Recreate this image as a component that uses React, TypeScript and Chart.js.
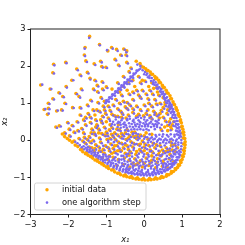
import React, { useEffect, useRef } from "react";
import { Chart, registerables } from "chart.js";

Chart.register(...registerables);

const seriesNames = ["initial data", "one algorithm step"];
const xTicks = [-3, -2, -1, 0, 1, 2];
const yTicks = [-2, -1, 0, 1, 2, 3];
const axisNames = ["x\u2081", "x\u2082"];

const initialRim = [
  -0.08,2.0,-0.02,1.97,0.04,1.93,0.1,1.88,0.16,1.84,0.22,1.78,0.28,1.72,0.33,1.68,0.38,1.62,0.43,1.55,0.48,1.48,0.53,1.42,
  0.58,1.35,0.63,1.27,0.68,1.2,0.72,1.12,0.76,1.04,0.8,0.96,0.84,0.88,0.87,0.8,0.9,0.72,0.93,0.64,0.96,0.55,0.98,0.47,
  1.0,0.38,1.02,0.3,1.04,0.22,1.05,0.14,1.07,0.05,1.08,-0.04,1.08,-0.12,1.07,-0.2,1.06,-0.28,1.05,-0.36,1.03,-0.44,1.0,-0.52,
  0.97,-0.6,0.93,-0.67,0.88,-0.73,0.83,-0.79,0.77,-0.84,0.71,-0.89,0.65,-0.93,0.58,-0.97,0.5,-1.0,0.42,-1.02,0.34,-1.04,
  0.26,-1.05,0.18,-1.06,0.1,-1.07,0.02,-1.07,-0.06,-1.06,-0.14,-1.05,-0.22,-1.04,-0.3,-1.02,-0.38,-1.0,-0.46,-0.98,-0.54,-0.96,
  -0.62,-0.93,-0.7,-0.89,-0.78,-0.85,-0.86,-0.8,-0.94,-0.76,-1.0,-0.72,-1.06,-0.68,-1.12,-0.64,-1.18,-0.6,-1.24,-0.56,-1.3,-0.53,
  -1.36,-0.48,-1.42,-0.44,-1.48,-0.4,-1.55,-0.36,-1.62,-0.31,-1.68,-0.25,-1.75,-0.17,-1.82,-0.13,-1.9,-0.05,-1.97,0.0,-2.03,0.05,-2.1,0.1,-2.16,0.17,
];

const initialRimInner = [
  0.06,1.87,0.18,1.78,0.3,1.66,0.4,1.56,0.5,1.42,0.6,1.28,0.7,1.12,0.78,0.98,0.85,0.84,0.9,0.68,0.95,0.52,0.98,0.36,1.01,0.2,1.03,0.06,1.04,-0.1,1.03,-0.26,1.0,-0.42,0.96,-0.55,
  0.9,-0.66,0.82,-0.76,0.72,-0.84,0.6,-0.92,0.46,-0.98,0.3,-1.01,0.14,-1.03,-0.02,-1.03,-0.18,-1.01,-0.34,-0.98,-0.5,-0.93,-0.66,-0.88,-0.82,-0.79,-0.96,-0.71,-1.1,-0.61,-1.24,-0.52,-1.38,-0.43,-1.52,-0.33,-1.64,-0.24,
];

const initialSparse = [
  -1.44,2.8,-1.18,2.58,-1.56,2.5,-0.86,2.5,-0.54,2.46,-0.73,2.45,-0.96,2.41,-0.46,2.41,-2.39,2.05,-2.07,2.1,-2.41,1.82,-1.58,2.3,
  -1.54,2.14,-1.32,2.06,-1.15,2.13,-1.12,1.99,-1.01,1.97,-0.68,2.03,-0.77,2.18,-0.62,2.3,-0.48,2.3,-0.46,2.1,-0.21,2.13,-0.11,2.07,
  -1.78,1.92,-1.5,1.83,-1.69,1.76,-1.91,1.62,-2.73,1.49,-2.48,1.38,-2.25,1.28,-2.06,1.45,-2.64,0.83,-2.53,0.86,-2.55,0.7,-2.41,1.12,
  -2.53,1.0,-2.31,0.79,-2.18,0.82,-2.33,0.36,-2.24,0.39,-2.15,1.18,-2.09,1.0,-1.89,0.88,-1.69,0.88,-1.69,0.68,-1.5,0.95,-1.41,1.08,
  -1.8,1.26,-1.66,1.38,-1.72,1.18,-1.43,1.67,-1.3,1.62,-1.24,1.48,-1.11,1.58,-1.34,1.38,-1.23,1.31,-1.1,1.38,-1.0,1.44,-1.14,1.15,
  -1.22,1.02,-1.05,1.05,-2.02,0.48,-1.9,0.4,-1.77,0.5,-1.98,0.3,-1.85,0.22,-2.1,0.2,-1.97,0.12,-1.75,0.26,-1.6,0.55,-1.48,0.72,
  -1.35,0.82,-1.55,0.42,-1.42,0.48,-1.28,0.55,-0.35,1.95,-0.4,1.85,-0.55,1.72,-0.7,1.55,-0.55,1.45,-0.42,1.55,-0.3,1.62,-0.15,1.72,
  -0.1,1.55,0.02,1.6,0.2,1.55,0.33,1.42,0.15,1.35,-0.05,1.35,-0.2,1.35,-0.4,1.25,-0.6,1.22,-0.75,1.1,-0.55,1.05,-0.3,1.1,-0.1,1.15,
  0.1,1.12,0.28,1.1,0.42,1.0,0.2,0.92,0.0,0.95,-0.2,0.92,-0.45,0.85,-0.7,0.85,-0.9,0.8,
];

const initialInterior = [
  -1.1,0.65,-0.95,0.6,-0.85,0.7,-0.7,0.65,-0.58,0.72,-0.42,0.68,-0.3,0.75,-0.15,0.7,0.05,0.72,0.25,0.78,0.45,0.8,0.6,0.72,0.7,0.58,0.62,0.4,
  -1.2,0.3,-1.05,0.35,-0.92,0.28,-0.78,0.2,-0.65,0.28,-0.5,0.2,-0.38,0.12,-0.25,0.22,-0.1,0.14,0.05,0.2,0.2,0.16,0.45,0.28,0.72,0.3,
  -1.45,0.1,-1.3,0.15,-1.18,0.06,-1.05,0.14,-0.9,0.05,-0.76,0.02,-0.62,0.08,-0.48,0.02,-0.35,-0.04,-0.2,0.04,-0.05,-0.02,0.1,0.03,
  -1.55,-0.08,-1.42,-0.05,-1.28,-0.12,-1.15,-0.05,-1.02,-0.15,-0.88,-0.1,-0.72,-0.14,-0.6,-0.08,-0.45,-0.15,-0.3,-0.18,-0.15,-0.12,0.0,-0.18,0.12,-0.14,0.28,-0.2,0.42,-0.15,0.58,-0.2,0.72,-0.14,0.88,-0.2,
  -1.32,-0.3,-1.18,-0.28,-1.05,-0.36,-0.92,-0.28,-0.78,-0.32,-0.65,-0.28,-0.5,-0.35,-0.36,-0.32,-0.22,-0.38,-0.08,-0.3,0.08,-0.36,0.22,-0.32,0.38,-0.38,0.52,-0.32,0.68,-0.38,0.82,-0.3,
  -1.1,-0.48,-0.95,-0.52,-0.82,-0.46,-0.68,-0.52,-0.52,-0.48,-0.4,-0.54,-0.25,-0.5,-0.1,-0.55,0.05,-0.48,0.2,-0.54,0.35,-0.5,0.5,-0.56,0.66,-0.5,0.78,-0.58,
  -0.72,-0.68,-0.55,-0.66,-0.38,-0.72,-0.22,-0.66,-0.05,-0.72,0.12,-0.68,0.3,-0.74,0.48,-0.7,0.62,-0.74,
  0.55,0.95,0.4,0.6,0.2,0.58,0.78,0.5,0.68,0.9,0.5,1.15,-0.68,0.42,-1.0,0.5,-1.3,0.68,-1.6,0.2,-1.72,0.05,-1.85,-0.02,
  -1.25,0.42,-1.12,0.48,-1.38,0.3,-1.5,0.02,-1.35,0.0,-1.2,-0.18,-1.08,-0.24,-0.95,-0.2,-0.82,-0.22,-0.68,-0.05,-0.55,-0.2,-0.42,-0.25,-0.28,-0.08,-0.12,-0.25,0.02,-0.1,0.16,-0.26,0.32,-0.12,0.48,-0.26,0.65,-0.27,0.8,-0.12,
  -0.82,0.1,-0.7,0.14,-0.56,0.14,-0.42,0.06,-0.28,0.1,-0.15,0.08,0.0,0.12,-1.0,0.22,-0.85,0.34,-0.6,0.62,-0.48,0.6,-0.2,0.65,-0.02,0.66,0.15,0.66,0.32,0.68,0.5,0.62,0.56,0.52,0.66,0.5,0.74,0.42,
  0.12,1.0,0.32,0.98,0.5,0.88,0.62,0.82,0.38,1.22,0.22,1.25,0.05,1.25,-0.15,1.22,-0.3,1.3,-0.45,1.02,-0.65,1.0,-0.82,0.95,-0.95,0.92,-1.05,0.82,
];

const initialExtra = [
  -1.42,0.62,-1.28,0.36,-1.15,0.55,-1.02,0.72,-0.9,0.42,-0.78,0.66,-0.62,0.78,-0.5,0.9,-0.38,0.95,-1.18,0.78,-1.32,0.2,-1.12,0.18,-0.98,0.02,-0.86,0.16,
  -0.72,0.3,-0.6,0.18,-0.45,0.28,-0.32,0.22,-0.2,0.12,-1.58,0.08,-1.62,-0.02,-1.45,-0.18,-1.3,-0.22,-0.92,-0.42,-0.78,-0.15,-0.6,-0.28,-0.4,-0.4,-0.2,-0.3,
  0.0,-0.28,0.2,-0.42,0.45,-0.42,0.7,-0.05,0.62,0.26,0.54,0.36,0.7,0.36,0.3,0.72,0.1,0.82,-0.1,0.82,-0.3,0.85,0.42,0.72,0.55,1.02,0.35,1.3,0.12,1.45,-0.05,1.62,
  0.25,1.4,-0.25,1.45,-0.45,1.35,-0.65,1.3,-0.85,1.38,-1.25,0.82,-1.08,0.92,-1.55,0.62,-1.65,0.32,-1.4,0.2,-1.2,0.2,-0.98,0.14,-0.7,-0.28,-0.5,-0.12,
  -0.1,-0.1,0.24,-0.08,0.4,-0.3,0.58,-0.3,0.74,-0.26,-0.85,-0.35,-1.12,-0.3,-1.38,-0.2,-0.3,-0.62,-0.16,-0.62,0.0,-0.62,0.16,-0.6,0.34,-0.6,0.5,-0.62,
];

const stepRim = [
  -0.1,1.93,-0.04,1.89,0.02,1.84,0.08,1.8,0.14,1.74,0.2,1.68,0.25,1.62,0.3,1.56,0.35,1.5,0.4,1.43,0.45,1.37,0.5,1.31,0.55,1.24,0.6,1.16,
  0.64,1.08,0.68,1.0,0.72,0.92,0.76,0.84,0.79,0.76,0.82,0.68,0.85,0.6,0.88,0.52,0.9,0.43,0.92,0.35,0.94,0.26,0.96,0.18,0.97,0.1,0.98,0.01,0.98,-0.07,
  0.98,-0.16,0.97,-0.24,0.96,-0.32,0.94,-0.4,0.92,-0.46,0.88,-0.53,0.84,-0.6,0.79,-0.65,0.74,-0.71,0.68,-0.75,0.62,-0.8,0.55,-0.84,0.47,-0.88,0.39,-0.9,
  0.31,-0.92,0.23,-0.94,0.15,-0.95,0.07,-0.95,-0.01,-0.95,-0.09,-0.94,-0.17,-0.93,-0.25,-0.92,-0.33,-0.9,-0.41,-0.89,-0.49,-0.86,-0.57,-0.84,-0.65,-0.81,
  -0.73,-0.77,-0.81,-0.73,-0.89,-0.69,-0.97,-0.64,-1.03,-0.6,-1.09,-0.56,-1.15,-0.52,-1.21,-0.48,-1.27,-0.44,-1.33,-0.41,-1.39,-0.36,-1.45,-0.32,-1.51,-0.28,-1.58,-0.24,-1.65,-0.19,-1.7,-0.13,-1.76,-0.08,
];

const stepRightBand = [
  0.0,1.78,0.1,1.7,0.18,1.6,0.27,1.5,0.33,1.4,0.42,1.32,0.46,1.24,0.52,1.16,0.56,1.08,0.6,1.0,0.66,0.94,0.68,0.84,0.72,0.76,0.75,0.68,0.79,0.6,0.8,0.5,0.84,0.44,0.86,0.34,
  0.88,0.24,0.9,0.14,0.92,0.06,0.44,1.38,0.5,1.26,0.58,1.14,0.62,1.06,0.67,0.98,0.72,0.88,0.75,0.78,0.78,0.7,0.82,0.62,0.85,0.52,0.88,0.42,0.9,0.32,0.92,0.22,0.94,0.12,
  0.38,1.42,0.44,1.3,0.52,1.2,0.58,1.02,0.64,0.9,0.7,0.74,0.74,0.62,0.78,0.5,0.82,0.38,0.84,0.26,0.86,0.16,0.72,0.96,0.66,1.04,0.06,1.76,0.14,1.68,0.24,1.56,0.32,1.48,
];

const stepDiagonal = [
  -1.02,1.0,-0.98,1.05,-0.94,1.1,-0.9,1.14,-0.86,1.18,-0.82,1.22,-0.78,1.26,-0.74,1.3,-0.7,1.34,-0.66,1.38,-0.62,1.42,-0.58,1.46,-0.54,1.5,-0.5,1.54,-0.46,1.58,-0.42,1.62,
  -0.38,1.66,-0.34,1.7,-0.3,1.74,-0.26,1.78,-0.22,1.82,-0.18,1.87,-0.14,1.9,-1.0,1.08,-0.92,1.16,-0.84,1.24,-0.76,1.32,-0.68,1.4,-0.6,1.48,-0.52,1.56,-0.44,1.64,-0.36,1.72,-0.28,1.8,-0.2,1.88,
  -0.93,1.04,-0.85,1.12,-0.77,1.2,-0.69,1.28,-0.61,1.36,-0.53,1.44,-0.45,1.52,-0.37,1.6,-0.29,1.68,
];

const stepMiddleBand = [
  -0.9,0.52,-0.82,0.5,-0.75,0.56,-0.68,0.5,-0.6,0.54,-0.52,0.48,-0.45,0.54,-0.38,0.58,-0.3,0.52,-0.22,0.6,-0.15,0.54,-0.08,0.6,0.0,0.56,0.08,0.54,0.14,0.6,0.22,0.56,0.3,0.52,0.38,0.55,
  -0.85,0.44,-0.78,0.42,-0.7,0.46,-0.62,0.42,-0.55,0.44,-0.48,0.4,-0.4,0.46,-0.33,0.44,-0.26,0.48,-0.18,0.44,-0.1,0.48,-0.02,0.46,0.06,0.44,0.14,0.46,0.22,0.44,0.3,0.44,0.38,0.46,0.46,0.42,
  -0.7,0.36,-0.62,0.34,-0.54,0.36,-0.46,0.34,-0.38,0.37,-0.3,0.36,-0.22,0.38,-0.14,0.36,-0.06,0.38,0.02,0.37,0.1,0.38,0.18,0.36,0.26,0.38,0.34,0.36,0.42,0.34,
  -0.5,0.27,-0.42,0.26,-0.34,0.29,-0.26,0.3,-0.18,0.29,-0.1,0.3,-0.02,0.28,0.06,0.3,0.12,0.27,0.28,0.3,
  0.08,0.08,0.16,0.05,0.24,0.02,0.32,0.1,0.4,0.04,0.48,0.1,0.56,0.04,0.64,0.1,0.72,0.04,0.8,0.1,0.86,0.02,
  0.12,0.0,0.2,0.08,0.28,0.04,0.36,0.0,0.44,0.02,0.52,0.0,0.6,0.0,0.68,0.02,0.76,0.0,0.84,-0.02,0.9,-0.06,
  0.1,-0.06,0.18,-0.04,0.26,-0.08,0.34,-0.04,0.42,-0.08,0.5,-0.05,0.58,-0.08,0.66,-0.05,0.74,-0.08,0.82,-0.08,0.9,-0.12,
  0.3,0.14,0.4,0.15,0.5,0.16,0.6,0.14,0.7,0.16,0.8,0.15,
  -0.24,0.42,-0.12,0.42,0.02,0.41,0.1,0.41,0.26,0.41,0.34,0.41,-0.28,0.55,-0.12,0.5,0.04,0.5,0.18,0.5,0.34,0.5,-0.64,0.48,-0.5,0.42,
];

const stepBottomBand = [
  -0.55,-0.78,-0.48,-0.82,-0.4,-0.8,-0.33,-0.85,-0.25,-0.82,-0.18,-0.88,-0.1,-0.84,-0.02,-0.9,0.06,-0.86,0.14,-0.9,0.22,-0.86,0.3,-0.88,0.38,-0.84,0.46,-0.86,0.54,-0.8,0.62,-0.78,0.7,-0.72,
  -0.62,-0.72,-0.54,-0.7,-0.46,-0.74,-0.38,-0.76,-0.3,-0.74,-0.22,-0.78,-0.14,-0.76,-0.06,-0.8,0.02,-0.76,0.1,-0.8,0.18,-0.76,0.26,-0.78,0.34,-0.74,0.42,-0.78,0.5,-0.72,0.58,-0.7,0.66,-0.64,0.74,-0.62,0.8,-0.56,
  -0.82,-0.62,-0.74,-0.64,-0.66,-0.6,-0.58,-0.62,-0.5,-0.64,-0.42,-0.66,-0.34,-0.64,-0.26,-0.68,-0.18,-0.66,-0.1,-0.68,-0.02,-0.65,0.06,-0.68,0.14,-0.64,0.22,-0.68,0.3,-0.64,0.38,-0.66,0.46,-0.62,0.54,-0.62,0.62,-0.58,0.7,-0.56,0.86,-0.46,
  -1.0,-0.52,-0.92,-0.56,-0.84,-0.54,-0.76,-0.55,-0.68,-0.58,-0.6,-0.52,-0.52,-0.56,-0.44,-0.58,-0.36,-0.56,-0.28,-0.6,-0.2,-0.56,-0.12,-0.6,-0.04,-0.58,0.04,-0.58,0.12,-0.56,0.2,-0.6,0.28,-0.56,0.36,-0.58,0.44,-0.55,0.54,-0.52,0.66,-0.48,0.72,-0.44,0.82,-0.38,
  -1.18,-0.42,-1.08,-0.44,-1.0,-0.44,-0.9,-0.44,-0.76,-0.46,-0.6,-0.42,-0.46,-0.44,-0.32,-0.44,-0.16,-0.46,-0.02,-0.44,0.12,-0.44,0.26,-0.46,0.44,-0.42,0.6,-0.42,0.76,-0.44,0.86,-0.32,0.76,-0.3,
];

const stepBottomFill = [
  -0.44,-0.85,-0.36,-0.87,-0.28,-0.89,-0.2,-0.9,-0.12,-0.9,-0.04,-0.91,0.04,-0.91,0.12,-0.91,0.2,-0.9,0.28,-0.89,0.36,-0.87,0.44,-0.85,0.52,-0.83,0.6,-0.8,0.66,-0.76,0.74,-0.67,0.8,-0.61,0.84,-0.54,0.89,-0.46,0.91,-0.36,
  -0.72,-0.72,-0.64,-0.77,-0.56,-0.8,-0.48,-0.78,-0.42,-0.78,-0.28,-0.8,-0.16,-0.82,-0.06,-0.86,0.1,-0.85,0.26,-0.83,0.34,-0.81,0.48,-0.78,0.56,-0.74,0.62,-0.68,0.7,-0.64,0.78,-0.62,
  -0.95,-0.6,-0.88,-0.65,-0.8,-0.69,-0.7,-0.68,-0.58,-0.68,-0.44,-0.69,-0.3,-0.69,-0.14,-0.71,0.02,-0.71,0.18,-0.71,0.34,-0.69,0.5,-0.67,0.58,-0.64,
  -1.1,-0.5,-1.2,-0.44,-1.3,-0.38,-1.4,-0.3,-1.5,-0.24,-1.6,-0.16,-1.04,-0.53,-1.14,-0.46,-1.24,-0.4,-1.34,-0.33,-1.44,-0.26,-1.54,-0.2,-0.88,-0.6,-0.96,-0.5,-1.08,-0.38,-1.22,-0.34,-1.36,-0.26,-1.48,-0.18,
  -0.94,-0.44,-0.8,-0.5,-0.66,-0.52,-0.54,-0.5,-0.38,-0.5,-0.22,-0.52,-0.06,-0.52,0.08,-0.5,0.24,-0.52,0.4,-0.5,0.58,-0.5,0.74,-0.52,0.92,-0.28,
];

const stepInterior = [
  -1.07,0.62,-0.92,0.57,-0.82,0.67,-0.67,0.62,-0.55,0.69,-0.39,0.65,-0.27,0.72,-0.12,0.67,0.08,0.69,0.28,0.75,0.48,0.77,0.63,0.69,0.66,0.42,
  -1.17,0.27,-1.02,0.32,-0.89,0.25,-0.75,0.17,-0.62,0.25,-0.47,0.17,-0.35,0.09,-0.22,0.19,-0.07,0.11,0.48,0.25,0.7,0.27,
  -1.42,0.07,-1.27,0.12,-1.15,0.03,-1.02,0.11,-0.87,0.02,-0.73,-0.01,-0.59,0.05,-0.45,-0.01,-0.32,-0.07,-0.17,0.01,-0.02,-0.05,
  -1.52,-0.11,-1.39,-0.08,-1.25,-0.15,-1.12,-0.08,-0.99,-0.18,-0.85,-0.13,-0.69,-0.17,-0.57,-0.11,-0.42,-0.18,-0.27,-0.21,-0.12,-0.15,0.03,-0.21,0.15,-0.17,0.31,-0.23,0.45,-0.18,0.61,-0.23,0.75,-0.17,0.85,-0.22,
  -1.29,-0.33,-1.15,-0.31,-1.02,-0.39,-0.89,-0.31,-0.75,-0.35,-0.62,-0.31,-0.47,-0.38,-0.33,-0.35,-0.19,-0.41,-0.05,-0.33,0.11,-0.39,0.25,-0.35,0.41,-0.41,0.55,-0.35,0.71,-0.41,
  -1.42,1.64,-1.27,1.59,-1.21,1.45,-1.08,1.55,-1.31,1.35,-1.2,1.28,-1.07,1.35,-0.97,1.41,-1.11,1.12,-1.19,0.99,-1.02,1.02,-0.32,1.59,-0.12,1.69,-0.07,1.52,0.05,1.57,0.23,1.52,0.36,1.39,0.18,1.32,-0.02,1.32,-0.17,1.32,-0.37,1.22,-0.57,1.19,-0.72,1.07,
  -0.52,1.02,-0.27,1.07,-0.07,1.12,0.13,1.09,0.31,1.07,0.45,0.97,0.23,0.89,0.03,0.92,-0.17,0.89,-0.42,0.82,-0.67,0.82,-0.87,0.77,0.58,0.92,0.71,0.87,0.53,1.12,
  -1.22,0.39,-1.09,0.45,-1.35,0.27,-1.47,-0.01,-1.32,-0.03,-1.17,-0.21,-1.05,-0.27,-0.92,-0.23,-0.79,-0.25,-0.65,-0.08,-0.52,-0.23,-0.39,-0.28,-0.25,-0.11,-0.09,-0.28,0.05,-0.13,0.19,-0.29,0.35,-0.15,0.51,-0.29,0.68,-0.3,0.83,-0.15,
  -0.79,0.07,-0.67,0.11,-0.53,0.11,-0.39,0.03,-0.25,0.07,-0.12,0.05,0.03,0.09,-0.97,0.19,-0.82,0.31,-0.57,0.59,-0.45,0.57,-0.17,0.62,0.01,0.63,0.18,0.63,0.35,0.65,0.53,0.59,0.59,0.49,0.69,0.47,0.77,0.39,
  0.15,0.97,0.35,0.95,0.53,0.85,0.65,0.79,0.41,1.19,0.25,1.22,0.08,1.22,-0.12,1.19,-0.27,1.27,-0.42,0.99,-0.62,0.97,-0.79,0.92,-0.92,0.89,-1.02,0.79,
  -1.08,-0.15,-0.95,-0.05,-0.8,-0.05,-0.65,-0.22,-0.5,-0.08,-0.36,-0.14,-0.2,-0.1,-0.06,-0.2,0.08,-0.24,0.22,-0.14,0.38,-0.28,0.54,-0.14,0.68,-0.22,0.8,-0.26,
  -0.7,-0.38,-0.55,-0.42,-0.42,-0.36,-0.28,-0.26,-0.14,-0.36,0.0,-0.38,0.15,-0.3,0.32,-0.4,0.48,-0.38,0.62,-0.32,0.78,-0.36,
  -0.55,0.04,-0.42,0.16,-0.3,0.16,-0.16,0.16,0.0,0.04,0.14,0.16,
  -1.39,0.59,-1.25,0.33,-1.12,0.52,-0.99,0.69,-0.87,0.39,-0.75,0.63,-0.59,0.75,-0.47,0.87,-0.35,0.92,-1.15,0.75,-1.29,0.17,-1.09,0.15,-0.95,-0.01,-0.83,0.13,
  -0.69,0.27,-0.57,0.15,-0.42,0.25,-0.29,0.19,-0.17,0.09,-1.55,0.05,-1.59,-0.05,-1.42,-0.21,-1.27,-0.25,0.27,0.69,0.07,0.79,-0.07,0.79,-0.27,0.82,0.39,0.69,
  -1.22,0.79,-1.05,0.89,-1.52,0.59,-1.62,0.29,-1.37,0.17,-0.95,0.11,
];

const stepSparse = [
  -1.45,2.76,-1.17,2.56,-1.57,2.47,-0.83,2.47,-0.51,2.44,-0.7,2.41,-0.98,2.43,-0.47,2.37,-2.37,2.02,-2.05,2.08,-2.38,1.8,-1.56,2.27,
  -1.51,2.11,-1.29,2.03,-1.12,2.1,-1.09,1.96,-0.98,1.95,-0.65,2.0,-0.74,2.15,-0.59,2.28,-0.45,2.27,-0.43,2.07,-0.18,2.04,-0.1,2.0,
  -1.75,1.89,-1.47,1.8,-1.66,1.73,-1.87,1.62,-2.69,1.5,-2.45,1.38,-2.22,1.26,-2.04,1.42,-2.61,0.84,-2.5,0.84,-2.52,0.72,-2.38,1.1,
  -2.5,0.98,-2.28,0.8,-2.15,0.8,-2.3,0.34,-2.2,0.37,-2.12,1.16,-2.06,0.98,-1.86,0.87,-1.66,0.86,-1.66,0.66,-1.47,0.92,-1.38,1.05,
  -1.77,1.24,-1.63,1.35,-1.69,1.15,-2.0,0.46,-1.87,0.38,-1.74,0.48,-1.95,0.28,-1.82,0.2,-2.07,0.18,-1.94,0.1,-1.72,0.24,-1.57,0.52,-1.45,0.69,
  -1.32,0.79,-1.52,0.39,-1.39,0.45,-1.25,0.52,-0.33,1.92,-0.38,1.82,-0.52,1.69,-0.67,1.52,-0.52,1.42,-0.39,1.52,-1.57,0.17,-1.69,0.02,-1.82,-0.04,
];

function pairs(...lists: number[][]) {
  const out: { x: number; y: number }[] = [];
  for (const list of lists) {
    for (let i = 0; i + 1 < list.length; i += 2) out.push({ x: list[i], y: list[i + 1] });
  }
  return out;
}

const fmt = (v: number) => (v < 0 ? "\u2212" + Math.abs(v) : String(v));
const FONT = "'DejaVu Sans'";
const ORANGE = "#ffa500";
const BLUE = "#7b68ee";

const framePlugin = {
  id: "frameAndLegend",
  afterDatasetsDraw(chart: any) {
    const { ctx, chartArea: a } = chart;
    ctx.save();
    ctx.strokeStyle = "#222";
    ctx.lineWidth = 1;
    ctx.strokeRect(a.left, a.top, a.right - a.left, a.bottom - a.top);
    const bx = 34.5, by = 183, bw = 111.5, bh = 27;
    ctx.fillStyle = "rgba(255,255,255,0.8)";
    ctx.strokeStyle = "#d4d4d4";
    ctx.beginPath();
    ctx.roundRect(bx, by, bw, bh, 2);
    ctx.fill();
    ctx.stroke();
    ctx.textBaseline = "middle";
    ctx.textAlign = "left";
    ctx.font = `8.3px ${FONT}`;
    const rows = [
      { name: seriesNames[0], color: ORANGE, r: 1.7, y: by + 6.8 },
      { name: seriesNames[1], color: BLUE, r: 1.3, y: by + 19.6 },
    ];
    for (const row of rows) {
      ctx.fillStyle = row.color;
      ctx.beginPath();
      ctx.arc(bx + 12.5, row.y, row.r, 0, Math.PI * 2);
      ctx.fill();
      ctx.fillStyle = "#111";
      ctx.fillText(row.name, 62, row.y);
    }
    ctx.restore();
  },
};

export default function App() {
  const ref = useRef<HTMLCanvasElement>(null);
  useEffect(() => {
    document.body.style.margin = "0";
    const chart = new Chart(ref.current!, {
      type: "scatter",
      data: {
        datasets: [
          {
            label: seriesNames[1],
            data: pairs(stepRim, stepRightBand, stepDiagonal, stepMiddleBand, stepBottomBand, stepBottomFill, stepInterior, stepSparse),
            backgroundColor: BLUE,
            borderWidth: 0,
            pointRadius: 1.3,
            order: 1,
          },
          {
            label: seriesNames[0],
            data: pairs(initialRim, initialRimInner, initialSparse, initialInterior, initialExtra),
            backgroundColor: ORANGE,
            borderWidth: 0,
            pointRadius: 1.8,
            order: 2,
          },
        ],
      },
      options: {
        responsive: false,
        animation: false,
        layout: { padding: { top: 29, right: 25, left: 0, bottom: 0 } },
        plugins: { legend: { display: false }, tooltip: { enabled: false } },
        scales: {
          x: {
            type: "linear",
            min: xTicks[0],
            max: xTicks[xTicks.length - 1],
            afterBuildTicks: (s: any) => { s.ticks = xTicks.map((v) => ({ value: v })); },
            afterFit: (s: any) => { s.height = 30.5; },
            grid: { drawOnChartArea: false, tickLength: 3, color: "#222" },
            border: { color: "#222" },
            ticks: { callback: (v: any) => fmt(Number(v)), color: "#111", font: { family: FONT, size: 8.3 }, padding: 2, maxRotation: 0, autoSkip: false },
            title: { display: true, text: axisNames[0], color: "#111", font: { family: FONT, size: 8.3, style: "italic" }, padding: { top: 2, bottom: 0 } },
          },
          y: {
            type: "linear",
            min: yTicks[0],
            max: yTicks[yTicks.length - 1],
            afterBuildTicks: (s: any) => { s.ticks = yTicks.map((v) => ({ value: v })); },
            afterFit: (s: any) => { s.width = 30.5; },
            grid: { drawOnChartArea: false, tickLength: 3, color: "#222" },
            border: { color: "#222" },
            ticks: { callback: (v: any) => fmt(Number(v)), color: "#111", font: { family: FONT, size: 8.3 }, padding: 2, autoSkip: false },
            title: { display: true, text: axisNames[1], color: "#111", font: { family: FONT, size: 8.3, style: "italic" }, padding: { top: 0, bottom: 2 } },
          },
        },
      },
      plugins: [framePlugin],
    } as any);
    return () => chart.destroy();
  }, []);
  return <canvas ref={ref} width={245} height={245} style={{ display: "block", width: 245, height: 245 }} />;
}
